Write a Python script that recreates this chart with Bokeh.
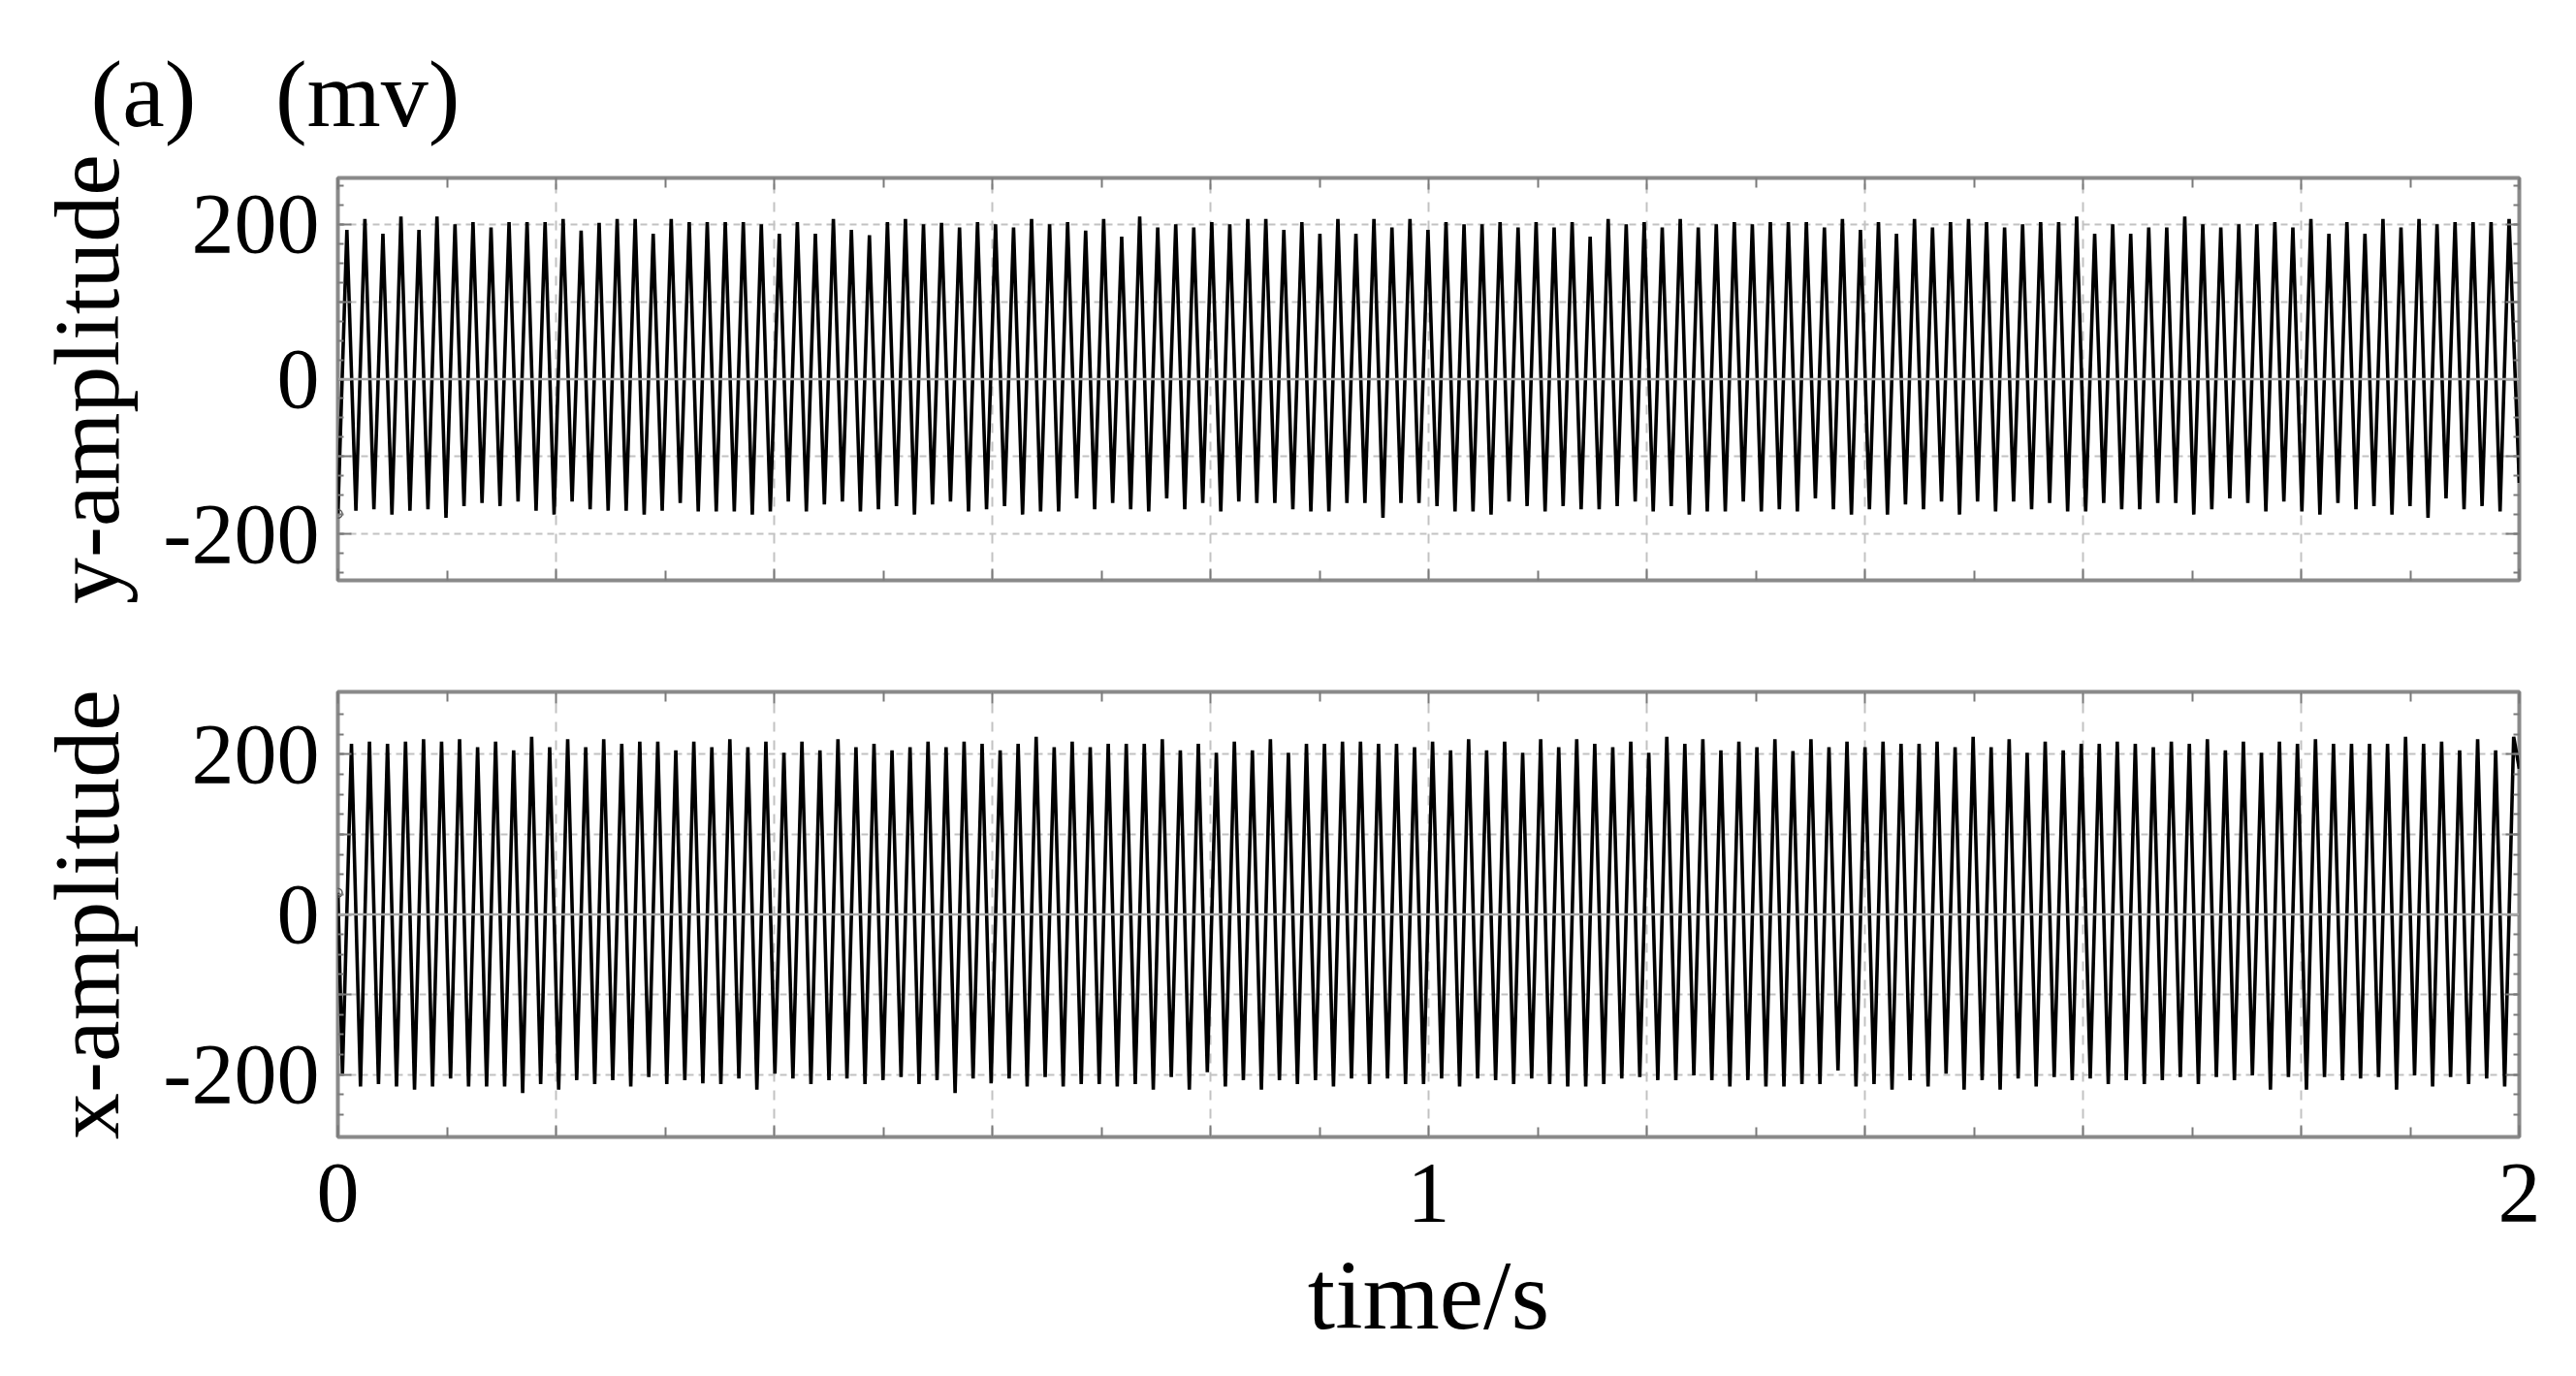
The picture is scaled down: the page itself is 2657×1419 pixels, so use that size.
from bokeh.plotting import figure
from bokeh.layouts import column
from bokeh.models import FixedTicker, LinearAxis, Range1d, Span, Title
from bokeh.embed import file_html
from bokeh.resources import INLINE

FONT = "Liberation Serif"

# ---------------- data ----------------
x_tick_values = [0, 0.2, 0.4, 0.6, 0.8, 1.0, 1.2, 1.4, 1.6, 1.8, 2.0]
x_minor_values = [0.1, 0.3, 0.5, 0.7, 0.9, 1.1, 1.3, 1.5, 1.7, 1.9]
x_tick_text = ["0", "", "", "", "", "1", "", "", "", "", "2"]
y_tick_values = [-200, -100, 0, 100, 200]
y_tick_text = ["-200", "", "0", "", "200"]

period_s = 0.01652          # one oscillation (about 60.5 Hz)

# y-amplitude (mV): troughs at k*period, peaks half a period later
y_start = -174
y_end = -134
y_trough_t0 = 0.0
y_peaks = [
    193, 207, 188, 210, 193, 210, 200, 203, 196, 203,
    203, 203, 207, 192, 202, 207, 207, 188, 207, 203,
    203, 203, 203, 200, 188, 203, 188, 207, 193, 186,
    203, 207, 200, 202, 196, 203, 200, 196, 207, 200,
    203,
    192, 207, 184, 210, 196, 200, 196, 203, 200, 207,
    207, 193, 203, 188, 207, 188, 207, 196, 207, 193,
    203, 200, 200, 203, 196, 203, 196, 203, 184, 207,
    200, 203, 196, 207, 196, 200, 203, 200, 203, 203,
    203, 196, 207, 193, 203, 188, 207, 196, 203, 207,
    203, 196, 200, 203, 203, 210, 188, 200, 188, 196,
    196, 210, 200, 196, 200, 200, 203, 196, 207, 188,
    203, 188, 207, 196, 207, 200, 203, 203, 203, 207,
]
y_troughs = [
    -174, -170, -168, -175, -170, -168, -179, -164, -160, -164,
    -158, -170, -175, -158, -168, -170, -170, -175, -170, -160,
    -171, -171, -171, -175, -171, -158, -171, -162, -158, -171,
    -168, -164, -175, -162, -158, -171, -168, -164, -175, -171,
    -171,
    -154, -168, -160, -168, -171, -154, -168, -160, -171, -158,
    -160, -160, -168, -171, -171, -160, -160, -179, -160, -160,
    -164, -171, -171, -175, -158, -164, -171, -164, -168, -168,
    -164, -158, -171, -164, -175, -171, -171, -158, -171, -168,
    -171, -154, -168, -175, -168, -175, -162, -168, -158, -175,
    -158, -171, -158, -168, -160, -171, -171, -160, -168, -168,
    -160, -160, -175, -168, -154, -160, -171, -158, -171, -175,
    -160, -168, -164, -175, -164, -179, -154, -168, -164, -171,
]

# x-amplitude (mV)
x_start = 27
x_end = 182
x_trough_t0 = 0.0042
x_peaks = [
    213, 216, 213, 216, 219, 216, 219, 209, 216, 205,
    222, 209, 219, 209, 219, 213, 216, 216, 205, 216,
    209, 219, 209, 216, 202, 216, 205, 219, 209, 213,
    205, 209, 216, 209, 216, 213, 205, 213, 222, 209,
    216, 209, 213, 213, 213, 219, 205, 213, 202, 216,
    205, 219, 202, 213, 213, 216, 216, 213, 213, 209,
    216, 205, 219, 205, 216, 202, 219, 209, 219, 213,
    209, 216, 202, 222, 213, 219, 205, 216, 209, 219,
    204,
    219, 209, 216, 209, 216, 213, 213, 216, 209, 222,
    209, 219, 202, 216, 205, 213, 213, 216, 213, 209,
    216, 213, 219, 205, 216, 202, 216, 213, 219, 213,
    213, 213, 213, 222, 213, 216, 205, 219, 205, 222,
]
x_troughs = [
    -199, -215, -212, -215, -219, -215, -205, -215, -215, -215,
    -223, -212, -219, -207, -212, -207, -215, -203, -212, -207,
    -211, -212, -205, -219, -199, -205, -212, -207, -205, -212,
    -207, -203, -212, -207, -223, -205, -211, -205, -215, -203,
    -215,
    -212, -212, -215, -212, -219, -203, -219, -197, -215, -207,
    -219, -207, -212, -207, -215, -205, -212, -205, -212, -212,
    -205, -215, -205, -207, -212, -205, -212, -215, -215, -212,
    -205, -203, -207, -207, -201, -207, -215, -207, -215, -215,
    -212, -212, -195, -215, -212, -219, -207, -215, -199, -219,
    -207, -219, -205, -215, -203, -207, -205, -212, -207, -212,
    -207, -203, -212, -203, -207, -201, -219, -203, -219, -203,
    -207, -205, -203, -219, -201, -215, -203, -212, -205, -215,
]


def build_series(start, troughs, peaks, end, t0, period):
    ts, vs = [0.0], [start]
    for k, tr in enumerate(troughs):
        ts.append(t0 + k * period)
        vs.append(tr)
        if k < len(peaks):
            ts.append(t0 + (k + 0.5) * period)
            vs.append(peaks[k])
    ts.append(2.0)
    vs.append(end)
    return ts, vs


GRID = "#c2c2c2"
FRAME = "#8a8a8a"
TICK = "#7a7a7a"


def style_axis(ax, ticks, minor, overrides, show, tin, min_in, size="88px"):
    ax.ticker = FixedTicker(ticks=ticks, minor_ticks=minor)
    ax.major_label_overrides = overrides
    ax.axis_line_color = None
    ax.major_tick_line_color = TICK
    ax.major_tick_line_width = 2
    ax.minor_tick_line_color = TICK
    ax.minor_tick_line_width = 2
    ax.major_tick_in = tin
    ax.major_tick_out = 0
    ax.minor_tick_in = min_in
    ax.minor_tick_out = 0
    ax.major_label_text_font = FONT
    ax.major_label_text_color = "black"
    if show:
        ax.major_label_text_font_size = size
    else:
        ax.major_label_text_font_size = "0px"
        ax.major_label_standoff = 0


def panel(ts, vs, ylim, fh, top_b, bot_b, ylabel, show_x):
    p = figure(frame_width=2250, frame_height=fh,
               x_range=Range1d(0, 2), y_range=Range1d(-ylim, ylim),
               output_backend="svg", toolbar_location=None,
               min_border_left=348, min_border_right=55,
               min_border_top=top_b, min_border_bottom=bot_b)
    p.outline_line_color = FRAME
    p.outline_line_width = 4
    p.background_fill_color = "white"
    p.border_fill_color = "white"

    y_minor = list(range(-250, 251, 25))
    x_over = dict(zip(x_tick_values, x_tick_text))
    y_over = dict(zip(y_tick_values, y_tick_text))
    no_x = {t: "" for t in x_tick_values}
    no_y = {t: "" for t in y_tick_values}

    xa = p.xaxis[0]
    style_axis(xa, x_tick_values, x_minor_values,
               x_over if show_x else no_x, show_x, 12, 10)
    if show_x:
        xa.major_label_standoff = 28
        xa.axis_label = "time/s"
        xa.axis_label_text_font = FONT
        xa.axis_label_text_font_size = "102px"
        xa.axis_label_text_font_style = "normal"
        xa.axis_label_text_color = "black"
        xa.axis_label_standoff = 17

    ya = p.yaxis[0]
    style_axis(ya, y_tick_values, y_minor, y_over, True, 14, 6)
    ya.major_label_standoff = 19
    ya.axis_label = ylabel
    ya.axis_label_text_font = FONT
    ya.axis_label_text_font_size = "96px"
    ya.axis_label_text_font_style = "normal"
    ya.axis_label_text_color = "black"
    ya.axis_label_standoff = 22

    top = LinearAxis()
    style_axis(top, x_tick_values, x_minor_values, no_x, False, 12, 10)
    p.add_layout(top, "above")
    right = LinearAxis()
    style_axis(right, y_tick_values, y_minor, no_y, False, 14, 6)
    p.add_layout(right, "right")

    p.xgrid.ticker = FixedTicker(ticks=x_tick_values[1:-1])
    p.xgrid.grid_line_color = GRID
    p.xgrid.grid_line_width = 2
    p.xgrid.grid_line_dash = "10 9"
    p.ygrid.ticker = FixedTicker(ticks=[-200, -100, 100, 200])
    p.ygrid.grid_line_color = GRID
    p.ygrid.grid_line_width = 2
    p.ygrid.grid_line_dash = "7 5"
    p.add_layout(Span(location=0, dimension="width", line_color="#a6a6a6",
                      line_width=2.5))

    p.line(ts, vs, line_color="black", line_width=3.6)
    p.scatter([ts[0]], [vs[0]], marker="circle", size=9, fill_color=None,
              line_color="#555555", line_width=1.5)
    return p


yt, yv = build_series(y_start, y_troughs, y_peaks, y_end, y_trough_t0, period_s)
xt, xv = build_series(x_start, x_troughs, x_peaks, x_end, x_trough_t0, period_s)

p1 = panel(yt, yv, 260, 415, 183, 50, "y-amplitude", False)
p2 = panel(xt, xv, 278, 459, 65, 243, "x-amplitude", True)

NB = "\u00a0"
p1.add_layout(Title(text="(a)" + NB * 3 + "\u200a" + "(mv)", align="left",
                    offset=-255, standoff=66, text_font=FONT,
                    text_font_size="98px", text_font_style="normal",
                    text_color="black"), "above")

layout = column(p1, p2, spacing=0)
open("out.html", "w").write(file_html(layout, INLINE))
